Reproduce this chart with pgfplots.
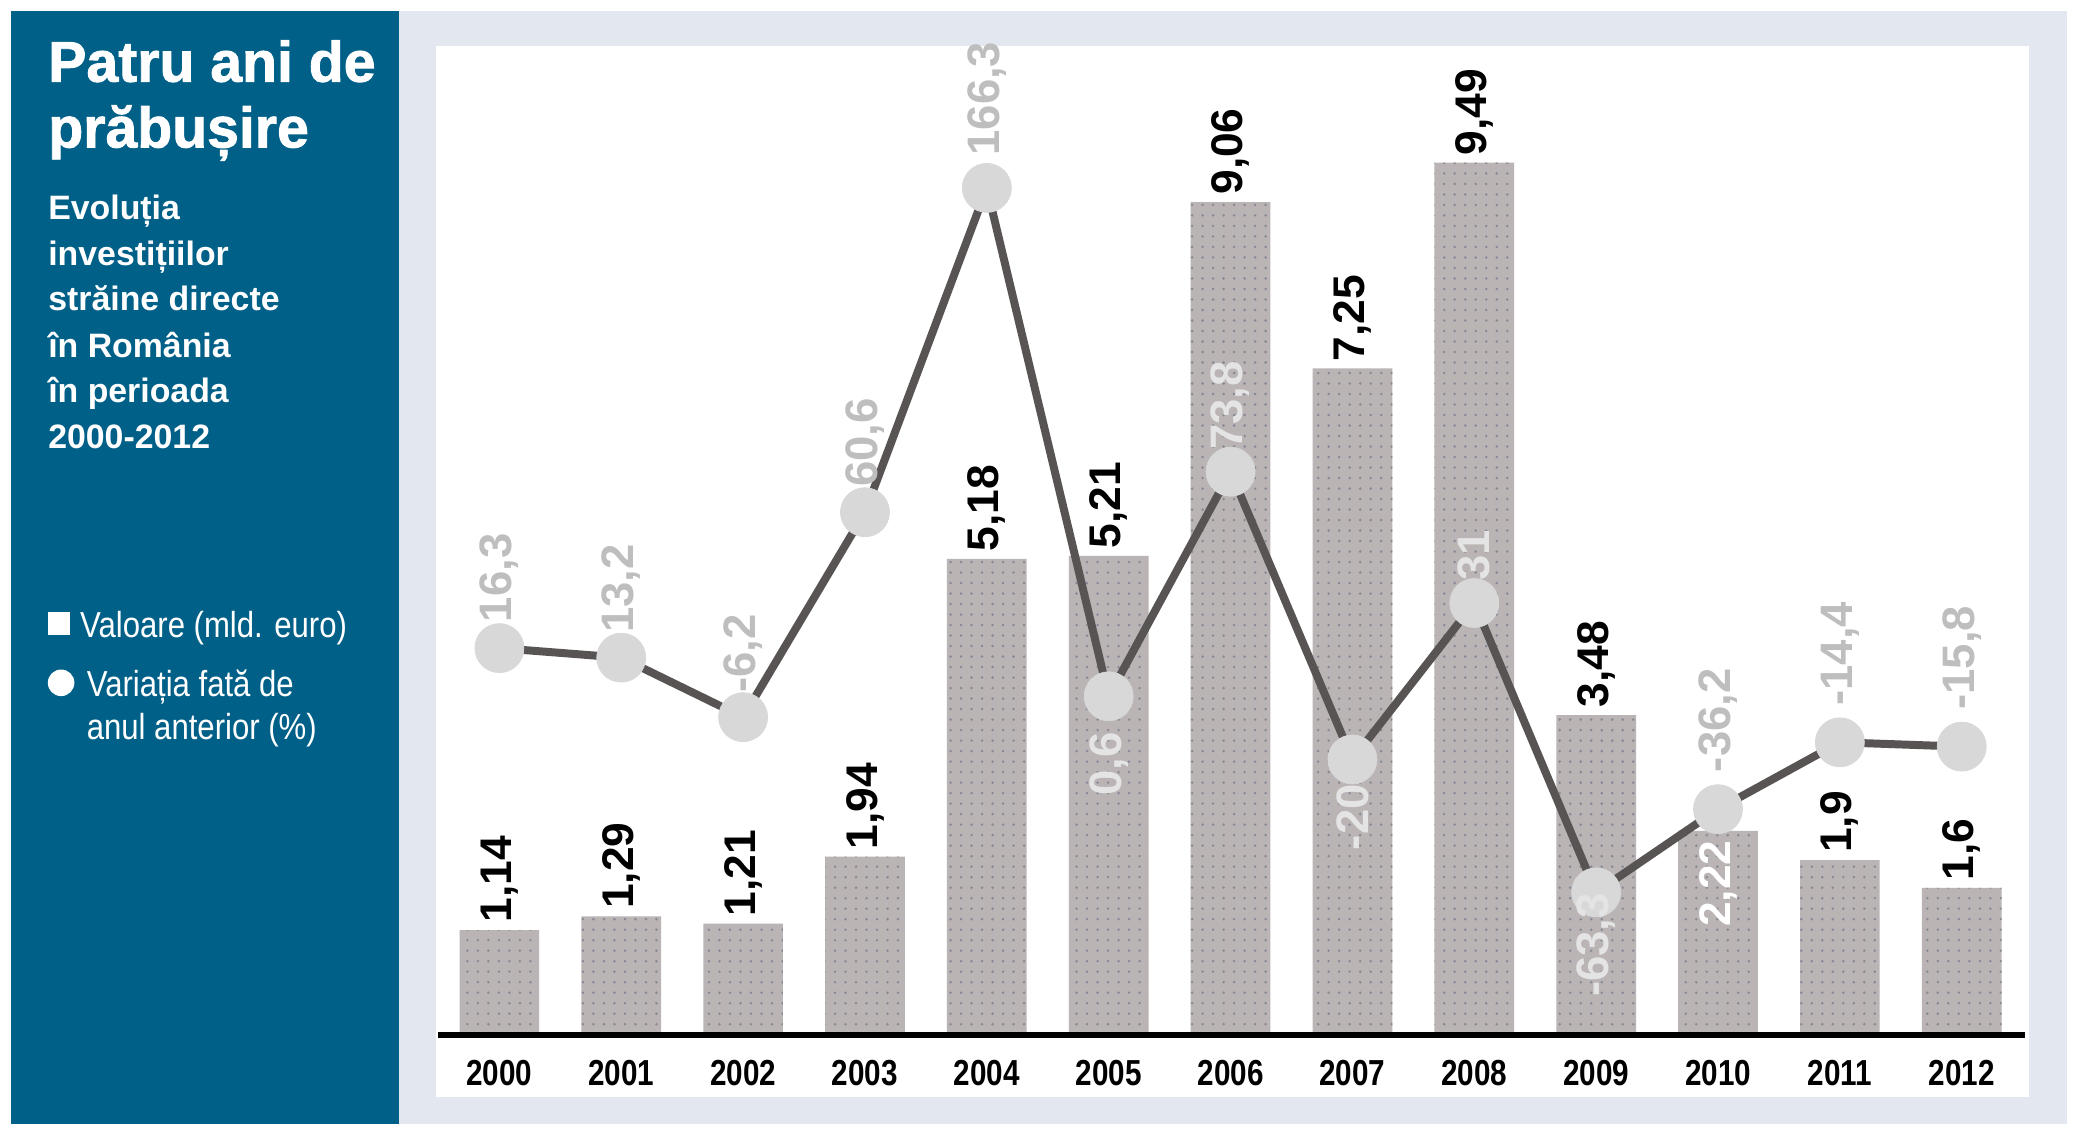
\documentclass[border=0pt]{standalone}
\usepackage{fontspec}
\setmainfont{Liberation Sans}
\newfontfamily\narrowfont[FakeStretch=0.82]{Liberation Sans}
\newfontfamily\legfont[FakeStretch=0.86]{Liberation Sans}
\newfontfamily\heavyfont[FakeBold=1.5]{Liberation Sans Bold}
\usepackage{pgfplots}
\pgfplotsset{compat=1.18}
\usetikzlibrary{patterns.meta}

\definecolor{panelblue}{RGB}{0,96,136}
\definecolor{bggray}{RGB}{226,231,240}
\definecolor{barcol}{RGB}{186,180,180}
\definecolor{dotcol}{RGB}{135,138,150}
\definecolor{linecol}{RGB}{88,84,84}
\definecolor{markcol}{RGB}{216,216,216}
\definecolor{labout}{RGB}{190,190,190}
\definecolor{labin}{RGB}{228,228,228}

\tikzdeclarepattern{
  name=bardots,
  type=uncolored,
  bottom left={(-0.5pt,-0.5pt)},
  top right={(5pt,5pt)},
  tile size={(4.5pt,4.5pt)},
  code={\fill (2.25pt,2.25pt) circle (0.6pt);}
}

\begin{document}
\begin{tikzpicture}
\begin{scope}[x=0.02cm,y=0.02cm]
\useasboundingbox (0,0) rectangle (1568,854);
\fill[white] (0,0) rectangle (1568,854);
\fill[panelblue] (8,8) rectangle (300,846);
\fill[bggray] (300,8) rectangle (1556,846);
\fill[white] (328,28) rectangle (1527,819);

% left panel
\begin{scope}[every node/.style={anchor=base west, inner sep=0pt, text=white}]
\node[font=\fontsize{24.5pt}{28pt}\selectfont\heavyfont] at (36,792.5) {Patru ani de};
\node[font=\fontsize{24.5pt}{28pt}\selectfont\heavyfont] at (36,743) {prăbușire};
\node[font=\fontsize{14.5pt}{18pt}\selectfont\bfseries] at (36,689) {Evoluția};
\node[font=\fontsize{14.5pt}{18pt}\selectfont\bfseries] at (36,654) {investițiilor};
\node[font=\fontsize{14.5pt}{18pt}\selectfont\bfseries] at (36,620) {străine directe};
\node[font=\fontsize{14.5pt}{18pt}\selectfont\bfseries] at (36,585) {în România};
\node[font=\fontsize{14.5pt}{18pt}\selectfont\bfseries] at (36,551) {în perioada};
\node[font=\fontsize{14.5pt}{18pt}\selectfont\bfseries] at (36,516) {2000-2012};
\node[font=\fontsize{15.5pt}{18pt}\selectfont\legfont] at (60,374) {Valoare (mld. euro)};
\node[font=\fontsize{15.5pt}{18pt}\selectfont\legfont] at (65,330) {Variația fată de};
\node[font=\fontsize{15.5pt}{18pt}\selectfont\legfont] at (65,297) {anul anterior (\%)};
\end{scope}
\fill[white] (36,376) rectangle (53,393);
\fill[white] (46,340) circle (10);
\end{scope}

% bars: value in bn euro
\begin{axis}[
  at={(6.56cm,0.56cm)}, anchor=south west, scale only axis,
  width=23.98cm, height=15.82cm,
  xmin=-0.523, xmax=12.545, ymin=-0.679, ymax=10.751,
  axis line style={draw=none}, major tick length=0pt,
  ytick=\empty,
  xtick={0,...,12},
  xticklabels={2000,2001,2002,2003,2004,2005,2006,2007,2008,2009,2010,2011,2012},
  xticklabel style={anchor=center, yshift=0.36cm,
    font=\fontsize{15.5pt}{18pt}\selectfont\narrowfont\bfseries},
  clip=false,
]
\addplot[ybar, bar width=1.2cm, bar shift=0pt, fill=barcol, draw=none,
  postaction={pattern={bardots}, pattern color=dotcol},
  nodes near coords, point meta=explicit symbolic,
  every node near coord/.append style={rotate=90, anchor=west, text=black,
    inner sep=3pt, font=\fontsize{19pt}{22pt}\selectfont\bfseries}]
coordinates {(0,1.14)[1,14] (1,1.29)[1,29] (2,1.21)[1,21] (3,1.94)[1,94]
  (4,5.18)[5,18] (5,5.21)[5,21] (6,9.06)[9,06] (7,7.25)[7,25] (8,9.49)[9,49]
  (9,3.48)[3,48] (10,2.22)[] (11,1.9)[1,9] (12,1.6)[1,6]};
\addplot[draw=none, mark=none, nodes near coords, point meta=explicit symbolic,
  every node near coord/.append style={rotate=90, anchor=east, text=white,
    inner sep=4pt, font=\fontsize{19pt}{22pt}\selectfont\bfseries}]
coordinates {(10,2.22)[2,22]};
\draw[black, line width=0.08cm] (axis cs:-0.501,0) -- (axis cs:12.523,0);
\end{axis}

% line: change on previous year in %
\begin{axis}[
  at={(6.56cm,0.56cm)}, anchor=south west, scale only axis,
  width=23.98cm, height=15.82cm,
  xmin=-0.523, xmax=12.545, ymin=-130.1, ymax=212.33,
  hide axis, clip=false,
]
\addplot[linecol, line width=0.12cm, mark=*, mark size=10.5pt,
  mark options={fill=markcol, draw=markcol, line width=0.3pt,
    postaction={pattern={bardots}, pattern color=gray!55}}]
coordinates {(0,16.3) (1,13.2) (2,-6.2) (3,60.6) (4,166.3) (5,0.6) (6,73.8)
  (7,-20) (8,31) (9,-63.3) (10,-36.2) (11,-14.4) (12,-15.8)};
\addplot[draw=none, mark=none, nodes near coords, point meta=explicit symbolic,
  every node near coord/.append style={rotate=90, anchor=center, text=labout,
    inner sep=0pt, font=\fontsize{19.5pt}{22pt}\selectfont\bfseries}]
coordinates {(0,39.2)[16,3] (1,35.7)[13,2] (2,14.5)[-6,2] (3,83.3)[60,6]
  (4,195.4)[166,3] (10,-7.2)[-36,2] (11,14.5)[-14,4] (12,13.2)[-15,8]};
\addplot[draw=none, mark=none, nodes near coords, point meta=explicit symbolic,
  every node near coord/.append style={rotate=90, anchor=center, text=labin,
    inner sep=0pt, font=\fontsize{19.5pt}{22pt}\selectfont\bfseries}]
coordinates {(5,-21.4)[0,6] (6,95.4)[73,8] (7,-38.8)[-20] (8,46.5)[31]
  (9,-80.5)[-63,3]};
\end{axis}
\end{tikzpicture}
\end{document}
